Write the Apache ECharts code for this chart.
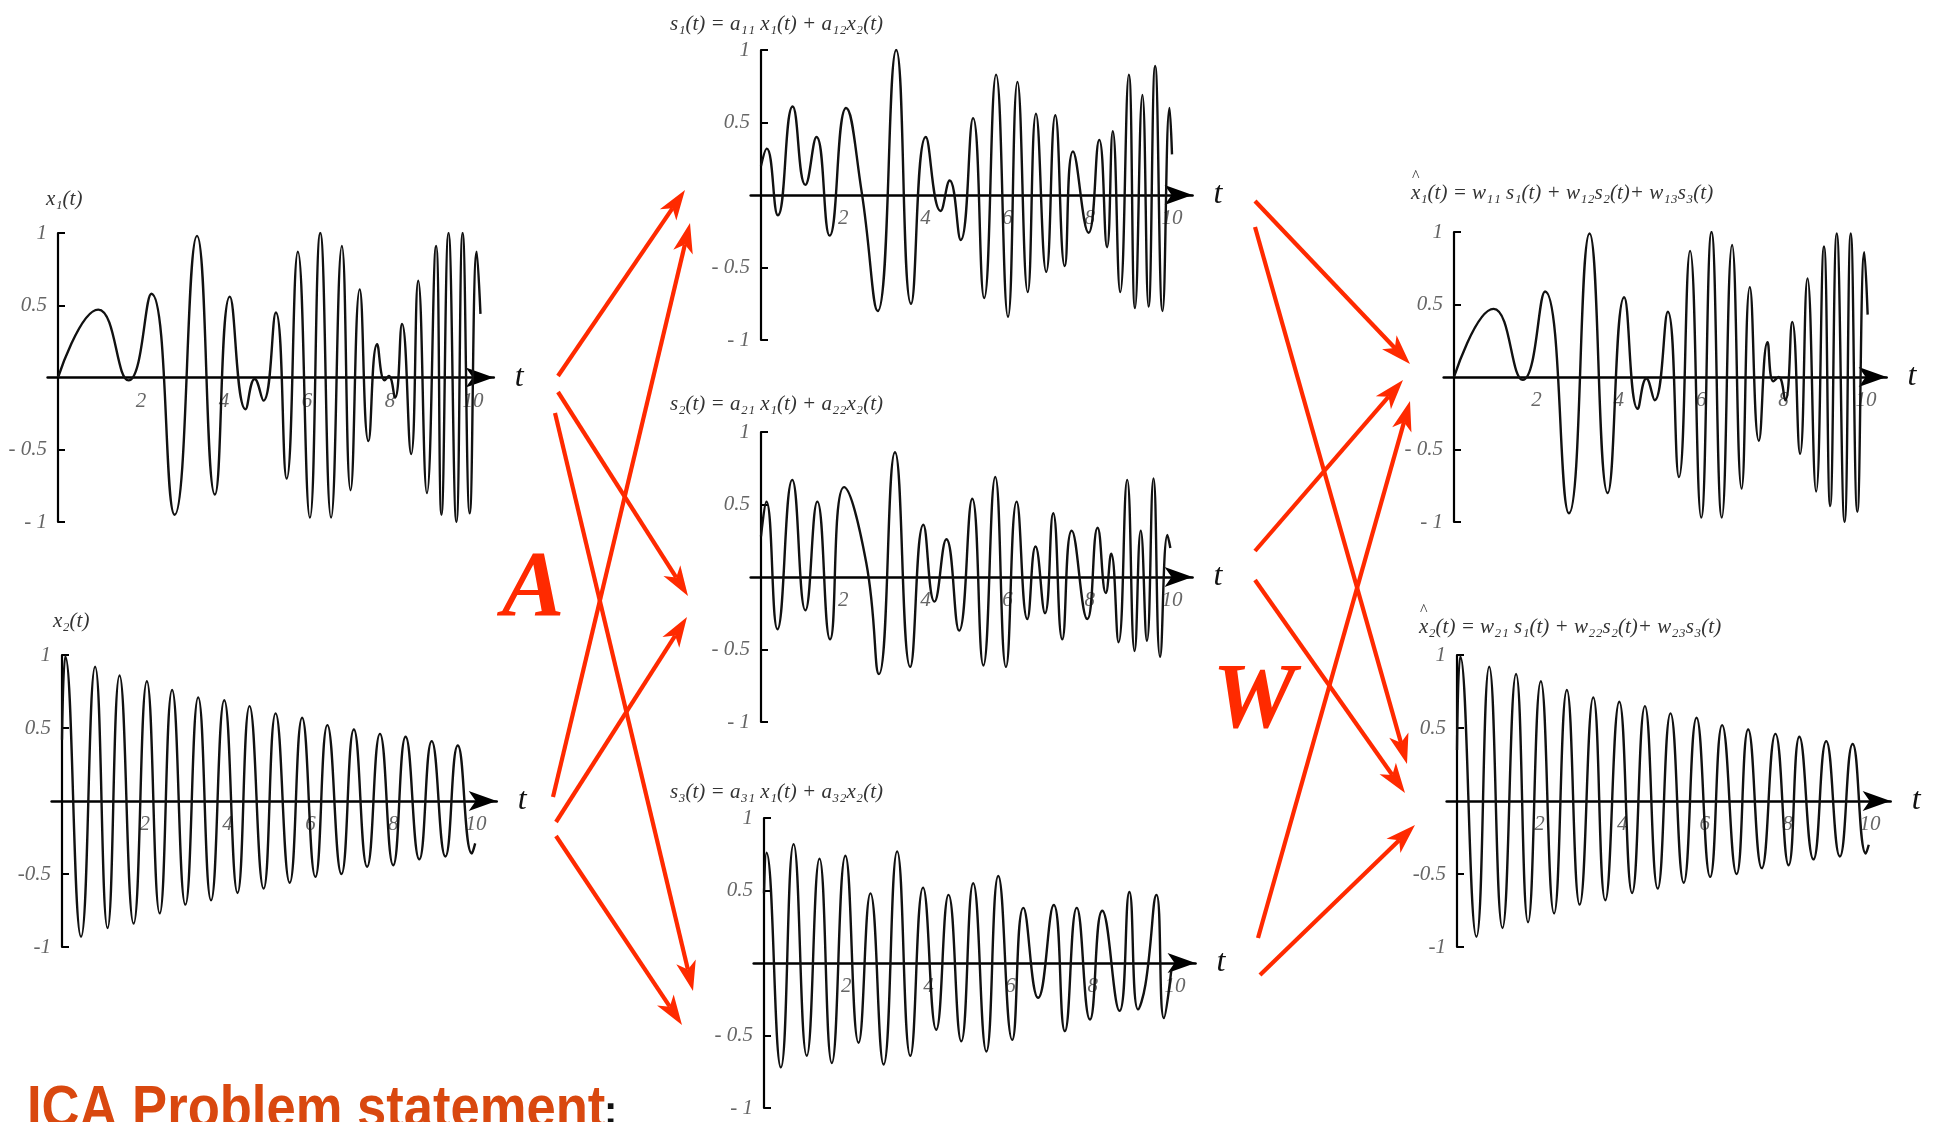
<!DOCTYPE html>
<html>
<head>
<meta charset="utf-8">
<script src="https://cdn.jsdelivr.net/npm/echarts@6/dist/echarts.min.js"></script>
<style>
  html, body { margin: 0; padding: 0; background: #ffffff; }
  #chart { width: 1935px; height: 1122px; }
</style>
</head>
<body>
<div id="chart"></div>
<script>
// ---- waveform turning points (time t, amplitude) ----
// source x1(t)
const x1T = [0, 0.97, 1.70, 2.25, 2.81, 3.35, 3.78, 4.14, 4.52, 4.74, 4.95, 5.25, 5.51, 5.78, 6.07, 6.32, 6.58, 6.84, 7.05, 7.27, 7.48, 7.69, 7.87, 7.97, 8.12, 8.29, 8.51, 8.68, 8.89, 9.11, 9.24, 9.41, 9.60, 9.75, 9.92, 10.09, 10.18];
const x1V = [0, 0.47, -0.02, 0.58, -0.95, 0.98, -0.81, 0.56, -0.22, -0.01, -0.16, 0.45, -0.70, 0.87, -0.97, 1.0, -0.97, 0.91, -0.78, 0.61, -0.44, 0.23, -0.02, 0.01, -0.14, 0.37, -0.53, 0.67, -0.80, 0.91, -0.95, 1.0, -1.0, 1.0, -0.94, 0.87, 0.44];
// source x2(t)
const x2T = [0, 0.08, 0.46, 0.80, 1.10, 1.39, 1.73, 2.05, 2.36, 2.66, 2.98, 3.29, 3.60, 3.92, 4.24, 4.53, 4.87, 5.16, 5.50, 5.80, 6.12, 6.41, 6.75, 7.05, 7.37, 7.68, 8.00, 8.30, 8.63, 8.93, 9.26, 9.56, 9.90, 9.98];
const x2V = [0.42, 0.99, -0.93, 0.92, -0.87, 0.86, -0.84, 0.82, -0.77, 0.76, -0.71, 0.71, -0.68, 0.69, -0.63, 0.65, -0.60, 0.60, -0.56, 0.57, -0.52, 0.52, -0.50, 0.49, -0.45, 0.46, -0.44, 0.44, -0.40, 0.41, -0.38, 0.38, -0.36, -0.29];
// mixture s1(t)
const s1T = [0, 0.14, 0.41, 0.77, 1.08, 1.35, 1.67, 2.07, 2.45, 2.84, 3.29, 3.65, 4.01, 4.37, 4.59, 4.86, 5.16, 5.43, 5.72, 6.01, 6.24, 6.49, 6.69, 6.94, 7.16, 7.39, 7.59, 7.97, 8.23, 8.42, 8.56, 8.74, 8.95, 9.10, 9.28, 9.43, 9.59, 9.77, 9.94, 10.0];
const s1V = [0.20, 0.32, -0.14, 0.61, 0.07, 0.40, -0.28, 0.60, 0.02, -0.80, 1.0, -0.75, 0.40, -0.11, 0.10, -0.31, 0.53, -0.71, 0.83, -0.84, 0.78, -0.67, 0.56, -0.53, 0.55, -0.49, 0.30, -0.26, 0.38, -0.36, 0.44, -0.67, 0.83, -0.78, 0.69, -0.77, 0.89, -0.80, 0.60, 0.28];
// mixture s2(t)
const s2T = [0, 0.13, 0.40, 0.76, 1.08, 1.37, 1.68, 2.02, 2.56, 2.87, 3.26, 3.63, 3.95, 4.22, 4.51, 4.82, 5.14, 5.41, 5.70, 5.96, 6.22, 6.48, 6.68, 6.91, 7.11, 7.33, 7.56, 7.94, 8.19, 8.39, 8.52, 8.70, 8.91, 9.09, 9.24, 9.39, 9.55, 9.71, 9.89, 9.96];
const s2V = [0.28, 0.52, -0.36, 0.67, -0.23, 0.52, -0.43, 0.62, 0.10, -0.67, 0.86, -0.62, 0.36, -0.17, 0.26, -0.37, 0.54, -0.61, 0.69, -0.62, 0.52, -0.29, 0.21, -0.25, 0.44, -0.43, 0.32, -0.29, 0.34, -0.11, 0.16, -0.45, 0.67, -0.51, 0.32, -0.44, 0.68, -0.55, 0.29, 0.20];
// mixture s3(t)
const s3T = [0, 0.06, 0.41, 0.72, 1.04, 1.35, 1.65, 1.98, 2.30, 2.59, 2.91, 3.24, 3.56, 3.87, 4.19, 4.49, 4.80, 5.09, 5.41, 5.70, 6.04, 6.31, 6.67, 7.05, 7.32, 7.61, 7.93, 8.23, 8.65, 8.89, 9.10, 9.28, 9.55, 9.73, 9.91];
const s3V = [0.48, 0.76, -0.72, 0.82, -0.64, 0.72, -0.69, 0.74, -0.55, 0.48, -0.70, 0.77, -0.64, 0.52, -0.46, 0.47, -0.54, 0.55, -0.61, 0.60, -0.53, 0.38, -0.24, 0.40, -0.47, 0.38, -0.39, 0.36, -0.33, 0.49, -0.32, -0.15, 0.47, -0.38, -0.05];
// recovered x̂1(t)
const xh1T = [0, 0.96, 1.67, 2.21, 2.79, 3.29, 3.73, 4.13, 4.46, 4.67, 4.87, 5.19, 5.46, 5.73, 6.00, 6.25, 6.50, 6.75, 6.98, 7.18, 7.40, 7.61, 7.75, 7.88, 8.04, 8.21, 8.40, 8.58, 8.79, 8.98, 9.13, 9.29, 9.48, 9.63, 9.79, 9.96, 10.04];
const xh1V = [0, 0.47, -0.02, 0.59, -0.94, 0.99, -0.80, 0.55, -0.22, -0.01, -0.16, 0.45, -0.69, 0.87, -0.97, 1.0, -0.97, 0.91, -0.77, 0.62, -0.44, 0.24, -0.03, 0.0, -0.16, 0.38, -0.53, 0.68, -0.79, 0.90, -0.89, 0.99, -1.0, 0.99, -0.93, 0.86, 0.43];
// recovered x̂2(t)
const xh2T = [0, 0.08, 0.47, 0.78, 1.10, 1.43, 1.72, 2.03, 2.35, 2.66, 2.97, 3.30, 3.59, 3.93, 4.24, 4.55, 4.86, 5.17, 5.49, 5.80, 6.13, 6.42, 6.77, 7.05, 7.38, 7.71, 8.03, 8.29, 8.63, 8.94, 9.27, 9.58, 9.90, 9.97];
const xh2V = [0.35, 0.99, -0.93, 0.92, -0.87, 0.87, -0.83, 0.82, -0.77, 0.76, -0.71, 0.71, -0.68, 0.68, -0.63, 0.65, -0.60, 0.60, -0.56, 0.57, -0.52, 0.52, -0.50, 0.49, -0.46, 0.46, -0.44, 0.44, -0.40, 0.41, -0.38, 0.39, -0.36, -0.30];

// ---- axis ticks and labels ----
const xTickValues = [2, 4, 6, 8, 10];
const yTickValues = [-1, -0.5, 0.5, 1];
const yLabelsSpaced = ['- 1', '- 0.5', '0.5', '1'];
const yLabelsTight = ['-1', '-0.5', '0.5', '1'];
const axisName = 't';

// ---- panel captions ----
const captions = {
  x1: 'x\u2081(t)',
  x2: 'x\u2082(t)',
  s1: 's\u2081(t) = a\u2081\u2081 x\u2081(t) + a\u2081\u2082x\u2082(t)',
  s2: 's\u2082(t) = a\u2082\u2081 x\u2081(t) + a\u2082\u2082x\u2082(t)',
  s3: 's\u2083(t) = a\u2083\u2081 x\u2081(t) + a\u2083\u2082x\u2082(t)',
  xh1: 'x\u2081(t) = w\u2081\u2081 s\u2081(t) + w\u2081\u2082s\u2082(t)+ w\u2081\u2083s\u2083(t)',
  xh2: 'x\u2082(t) = w\u2082\u2081 s\u2081(t) + w\u2082\u2082s\u2082(t)+ w\u2082\u2083s\u2083(t)'
};
const mixLabel = 'A';
const unmixLabel = 'W';
const heading = 'ICA Problem statement';

// ---- layout (pixels) ----
const SERIF = '"Liberation Serif", "DejaVu Serif", serif';
const RED = '#ff2a00';
const X_MIN = -0.25, X_MAX = 10.5;
const panels = [
  { key: 'x1',  t: x1T,  v: x1V,  t0: 58,   unit: 41.5, top: 233, bottom: 522, tight: false, cap: [46, 199] },
  { key: 'x2',  t: x2T,  v: x2V,  t0: 62,   unit: 41.4, top: 655, bottom: 947, tight: true,  cap: [53, 621] },
  { key: 's1',  t: s1T,  v: s1V,  t0: 761,  unit: 41.1, top: 50,  bottom: 340, tight: false, cap: [670, 24] },
  { key: 's2',  t: s2T,  v: s2V,  t0: 761,  unit: 41.1, top: 432, bottom: 722, tight: false, cap: [670, 404] },
  { key: 's3',  t: s3T,  v: s3V,  t0: 764,  unit: 41.1, top: 818, bottom: 1108, tight: false, cap: [670, 792] },
  { key: 'xh1', t: xh1T, v: xh1V, t0: 1454, unit: 41.2, top: 232, bottom: 522, tight: false, cap: [1411, 193], hat: true },
  { key: 'xh2', t: xh2T, v: xh2V, t0: 1457, unit: 41.3, top: 655, bottom: 947, tight: true,  cap: [1419, 627], hat: true }
];
// arrows: [fromX, fromY, toX, toY]
const arrows = [
  [558, 376, 685, 190], [558, 392, 688, 596], [555, 413, 693, 991],
  [553, 797, 690, 223], [556, 822, 687, 617], [556, 836, 682, 1025],
  [1255, 201, 1410, 364], [1255, 227, 1407, 764], [1255, 551, 1403, 380],
  [1255, 580, 1405, 793], [1258, 938, 1410, 401], [1260, 975, 1415, 825]
];

const grids = [], xAxes = [], yAxes = [], series = [];
panels.forEach((p, i) => {
  const height = p.bottom - p.top;
  const leftPad = -X_MIN * p.unit;
  grids.push({
    left: p.t0 - leftPad,
    top: p.top,
    width: (X_MAX - X_MIN) * p.unit,
    height: height,
    containLabel: false,
    outerBoundsMode: 'none'
  });
  xAxes.push({
    gridIndex: i, type: 'value', min: X_MIN, max: X_MAX,
    axisLine: { onZero: true, symbol: ['none', 'arrow'], symbolSize: [15, 28],
      lineStyle: { color: '#000', width: 2.6 } },
    axisTick: { show: false },
    splitLine: { show: false },
    axisLabel: {
      customValues: xTickValues,
      // labels sit just under the zero line
      margin: 13 - height / 2,
      formatter: v => String(v),
      fontFamily: SERIF, fontStyle: 'italic', fontSize: 21, color: '#666'
    },
    name: axisName, nameLocation: 'end', nameGap: 21,
    nameTextStyle: { fontFamily: SERIF, fontStyle: 'italic', fontSize: 32, color: '#111', verticalAlign: 'middle' }
  });
  const labels = p.tight ? yLabelsTight : yLabelsSpaced;
  yAxes.push({
    gridIndex: i, type: 'value', min: -1, max: 1,
    axisLine: { show: true, onZero: true, lineStyle: { color: '#000', width: 2.2 } },
    axisTick: { show: true, inside: true, length: 7, customValues: yTickValues,
      lineStyle: { color: '#000', width: 2 } },
    splitLine: { show: false },
    axisLabel: {
      customValues: yTickValues,
      // labels hug the t = 0 axis line
      margin: 11 - leftPad,
      formatter: v => labels[yTickValues.indexOf(v)],
      fontFamily: SERIF, fontStyle: 'italic', fontSize: 21, color: '#666'
    }
  });
  series.push({
    type: 'line', xAxisIndex: i, yAxisIndex: i,
    data: p.t.map((tt, k) => [tt, p.v[k]]),
    showSymbol: false, smooth: 0.5,
    lineStyle: { color: '#111', width: 2.4 },
    silent: true, z: 3
  });
});

const graphic = [];
// panel captions
panels.forEach(p => {
  graphic.push({
    type: 'text', x: p.cap[0], y: p.cap[1], silent: true,
    style: { text: captions[p.key], font: 'italic 21px ' + SERIF, fill: '#333', verticalAlign: 'middle', align: 'left' }
  });
  if (p.hat) {
    graphic.push({
      type: 'text', x: p.cap[0] + 1, y: p.cap[1] - 16, silent: true,
      style: { text: '^', font: '16px ' + SERIF, fill: '#333', verticalAlign: 'middle', align: 'left' }
    });
  }
});
// mixing arrows
arrows.forEach(a => {
  const [xa, ya, xb, yb] = a;
  const dx = xb - xa, dy = yb - ya, len = Math.hypot(dx, dy);
  const ux = dx / len, uy = dy / len, px = -uy, py = ux;
  const L = 30, W = 10, N = 22;
  const bx = xb - ux * L, by = yb - uy * L;
  const nx = xb - ux * N, ny = yb - uy * N;
  graphic.push({ type: 'line', silent: true, shape: { x1: xa, y1: ya, x2: nx, y2: ny },
    style: { stroke: RED, lineWidth: 4.2 } });
  graphic.push({ type: 'polygon', silent: true,
    shape: { points: [[xb, yb], [bx + px * W, by + py * W], [nx, ny], [bx - px * W, by - py * W]] },
    style: { fill: RED } });
});
// matrix letters
graphic.push({ type: 'text', x: 533, y: 591, silent: true,
  style: { text: mixLabel, font: 'italic bold 94px ' + SERIF, fill: RED, align: 'center', verticalAlign: 'middle' } });
graphic.push({ type: 'text', x: 1254, y: 703, silent: true,
  style: { text: unmixLabel, font: 'italic bold 94px ' + SERIF, fill: RED, align: 'center', verticalAlign: 'middle' } });
// heading
graphic.push({ type: 'text', x: 27, y: 1110, scaleX: 0.876, silent: true,
  style: {
    text: heading, verticalAlign: 'middle', align: 'left',
    font: 'bold 60px "Liberation Sans", Arial, sans-serif', fill: '#d9480f'
  } });
graphic.push({ type: 'text', x: 604, y: 1113, silent: true,
  style: {
    text: ':', verticalAlign: 'middle', align: 'left',
    font: 'bold 40px "Liberation Sans", Arial, sans-serif', fill: '#111'
  } });

const chart = echarts.init(document.getElementById('chart'), null, { renderer: 'canvas' });
chart.setOption({
  animation: false,
  backgroundColor: '#ffffff',
  grid: grids,
  xAxis: xAxes,
  yAxis: yAxes,
  series: series,
  graphic: graphic
});
</script>
</body>
</html>
